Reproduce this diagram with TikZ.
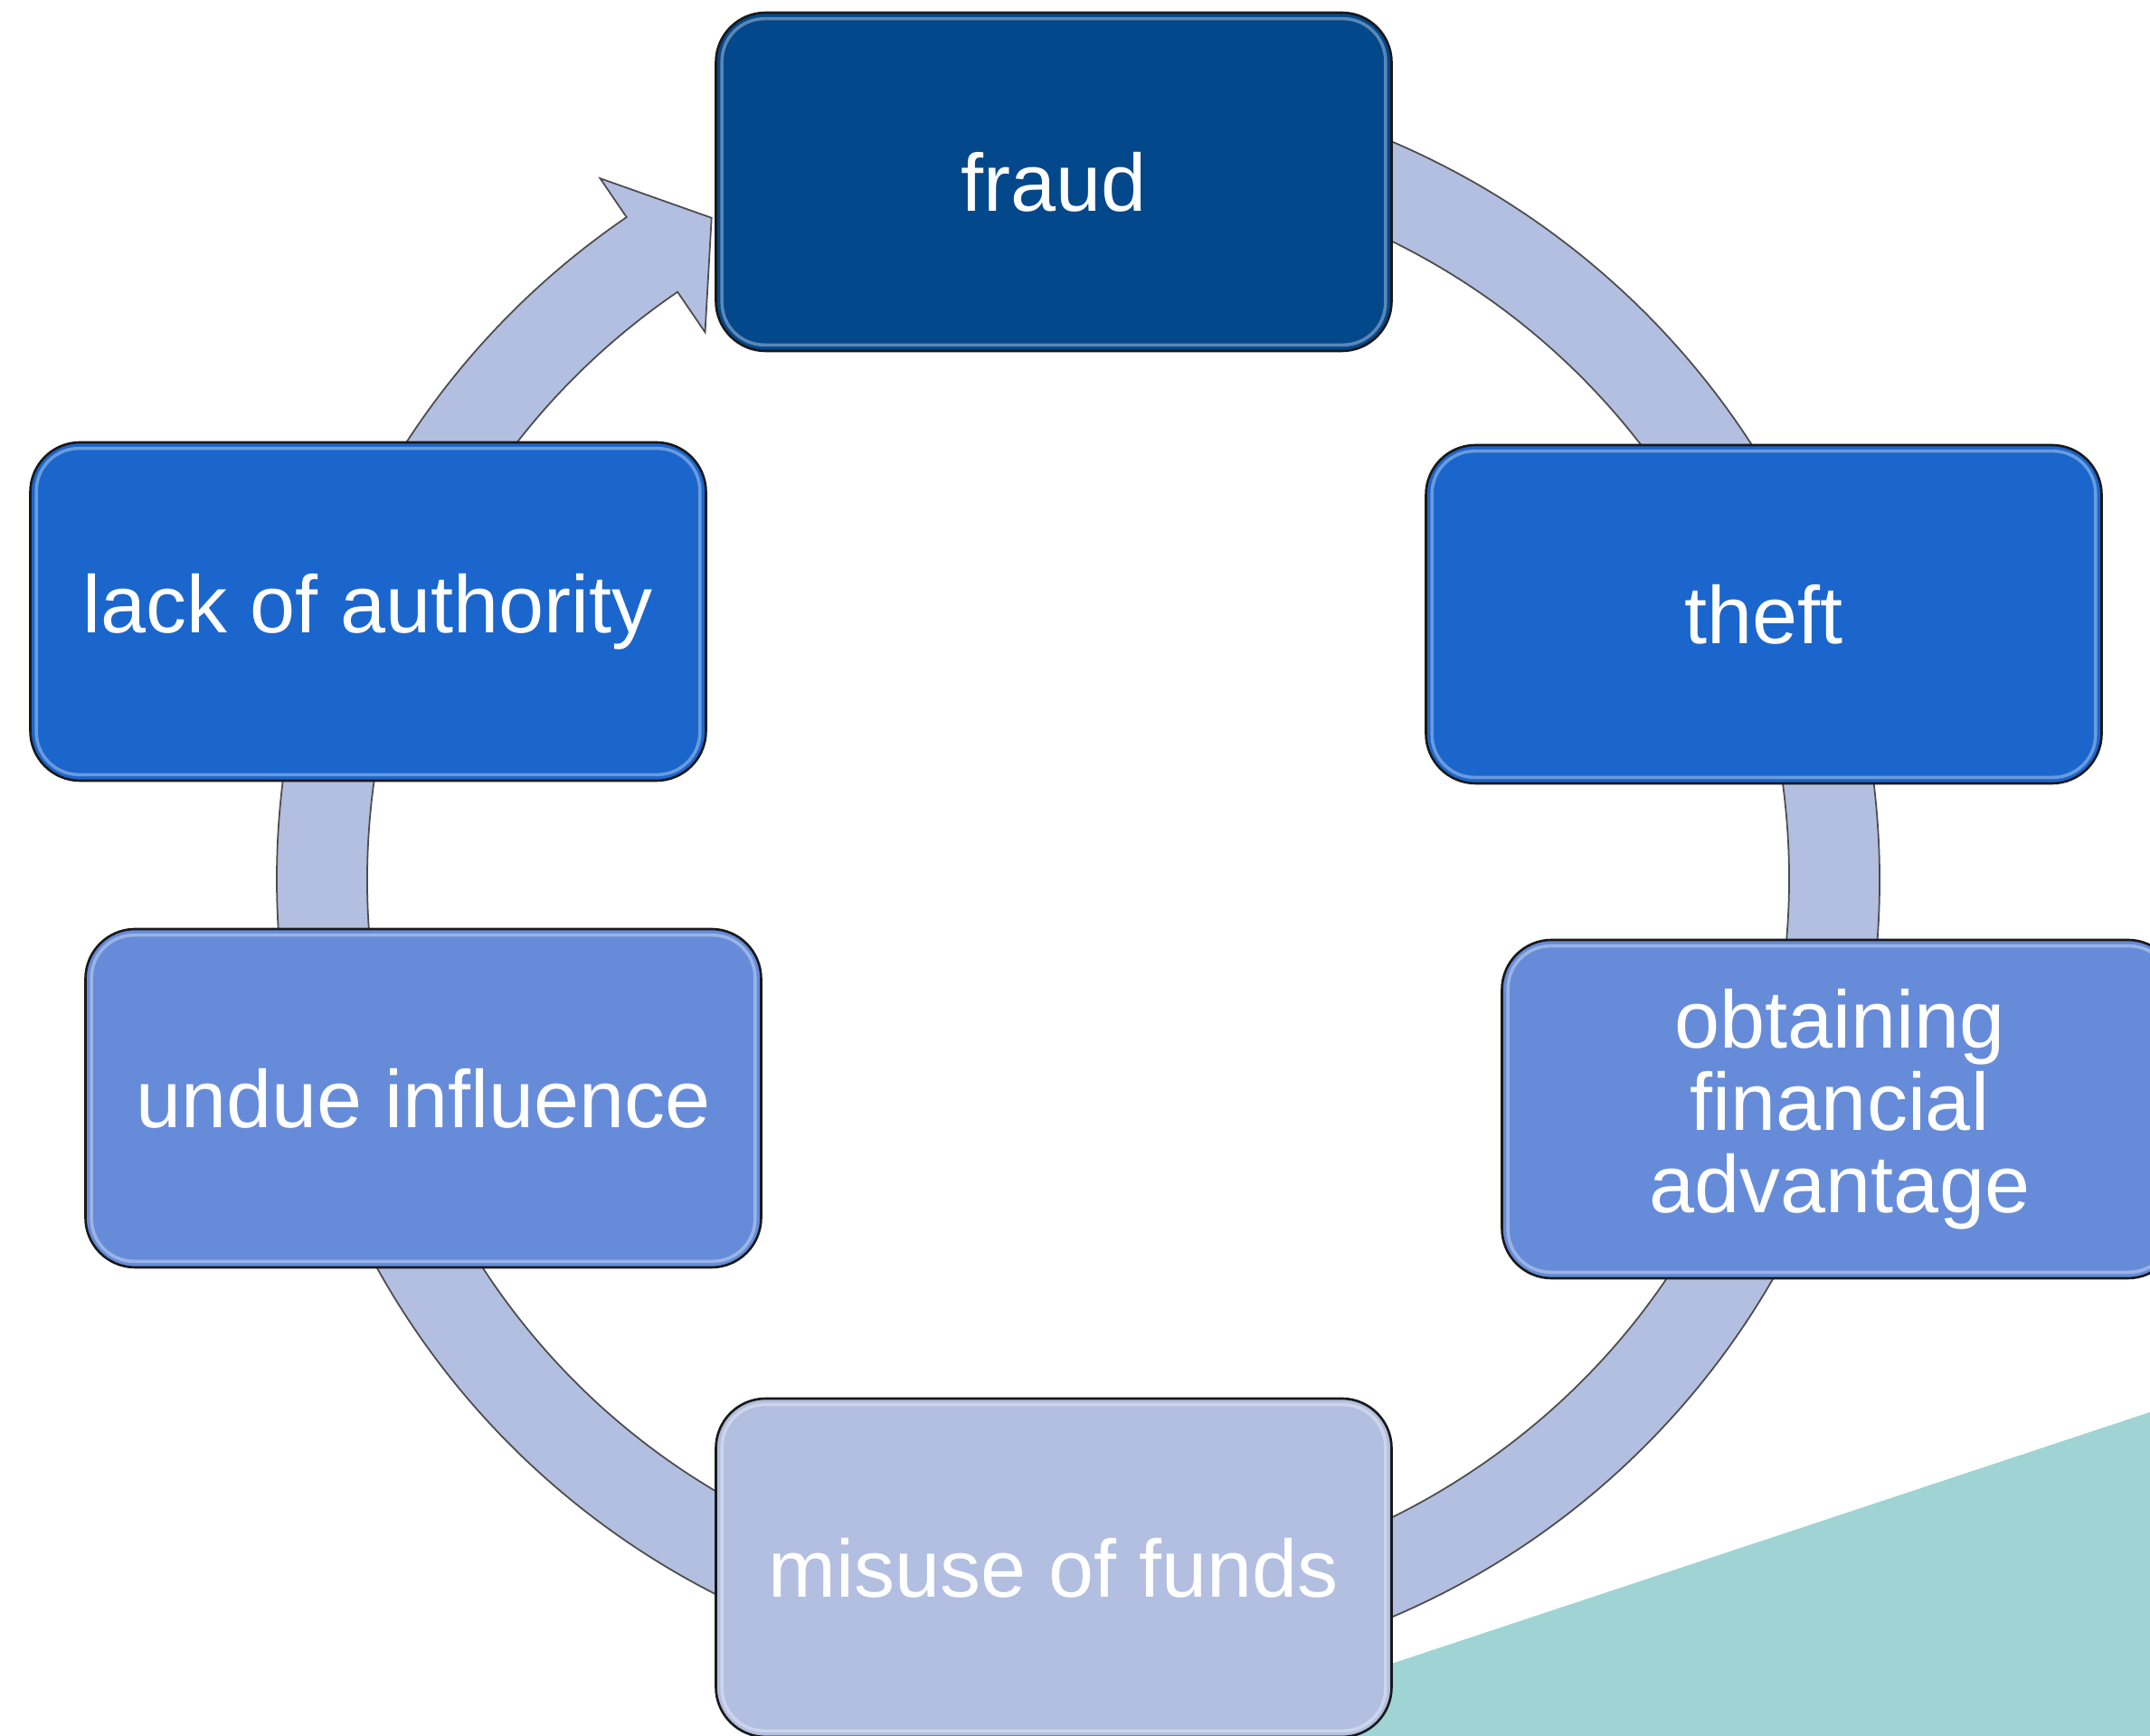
\documentclass[tikz,border=0pt]{standalone}
\usepackage{fontspec}
\setmainfont{Liberation Sans}
\usetikzlibrary{positioning}

\definecolor{fraudblue}{RGB}{4,72,140}
\definecolor{midblue}{RGB}{27,102,204}
\definecolor{softblue}{RGB}{102,140,217}
\definecolor{paleblue}{RGB}{179,191,224}
\definecolor{tealbg}{RGB}{160,212,212}

\tikzset{
  stagebox/.style={draw=black!90, line width=0.75pt, rounded corners=0.55cm,
    minimum width=7.47cm, minimum height=3.74cm, inner sep=0pt, align=center,
    text=white, font=\fontsize{25.6}{25.9}\selectfont},
  gloss/.style={draw=white, opacity=0.35, line width=1pt, rounded corners=0.47cm},
  ringline/.style={fill=paleblue, draw=black!70, line width=0.5pt, line join=miter}
}

\begin{document}
\begin{tikzpicture}
    \useasboundingbox (0,0) rectangle (23.77,19.19);

    % Background wedge
    \fill[tealbg] (14.0,0.34) -- (23.77,3.58) -- (23.77,0) -- (14.0,0) -- cycle;

    % Cycle ring with arrow head
    \coordinate (hub) at (11.92,9.47);
    \begin{scope}[shift={(hub)}]
        \draw[ringline] (95:8.86) arc[start angle=95, end angle=-235.7, radius=8.86]
            -- (-235.7:9.38) -- (-241:8.36) -- (-235.7:7.32) -- (-235.7:7.86)
            arc[start angle=-235.7, end angle=95, radius=7.86] -- cycle;
    \end{scope}

    % Stages
    \node[stagebox, fill=fraudblue] (fraud) at (11.65,17.18) {fraud};
    \node[stagebox, fill=midblue] (theft) at (19.50,12.40) {theft};
    \node[stagebox, fill=softblue] (advantage) at (20.34,6.93) {obtaining\\financial\\advantage};
    \node[stagebox, fill=paleblue] (misuse) at (11.65,1.86) {misuse of funds};
    \node[stagebox, fill=softblue] (undue) at (4.68,7.05) {undue influence};
    \node[stagebox, fill=midblue] (authority) at (4.07,12.43) {lack of authority};

    % Gloss edges
    \foreach \n in {fraud,theft,advantage,misuse,undue,authority}
        \draw[gloss] ([shift={(0.08,-0.08)}]\n.north west) rectangle ([shift={(-0.08,0.08)}]\n.south east);
\end{tikzpicture}
\end{document}
